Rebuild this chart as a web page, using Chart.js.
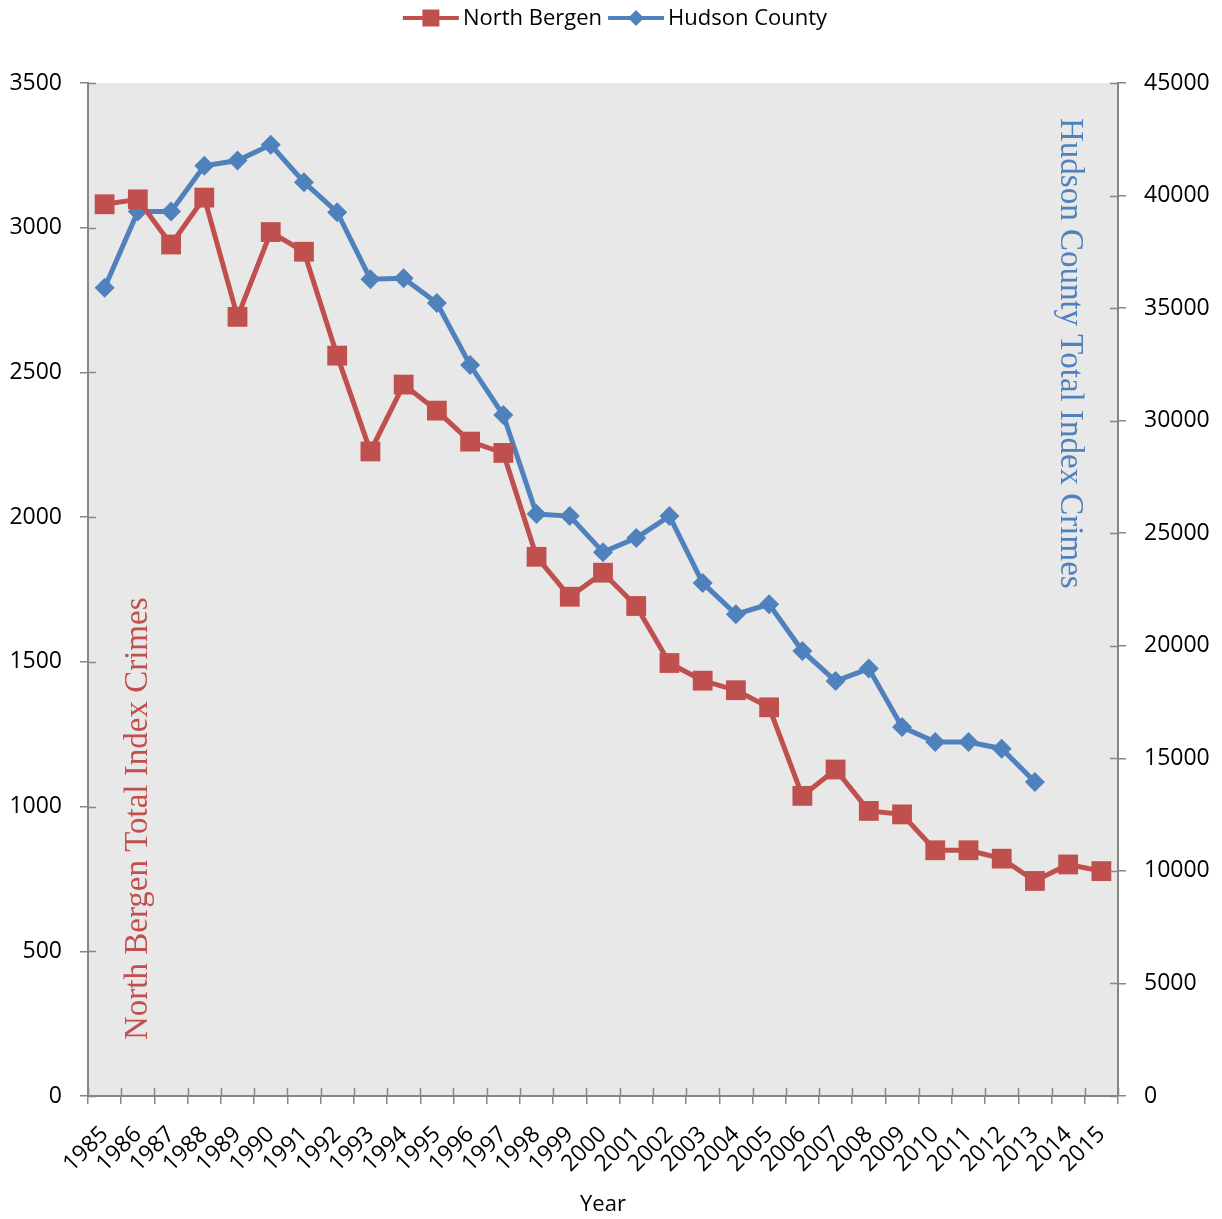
<!DOCTYPE html>
<html>
<head>
<meta charset="utf-8">
<script src="https://cdn.jsdelivr.net/npm/chart.js"></script>
<style>
  body { margin: 0; background: #ffffff; }
</style>
</head>
<body>
<canvas id="myChart" width="1222" height="1219"></canvas>
<script>
const years = ['1985', '1986', '1987', '1988', '1989', '1990', '1991', '1992', '1993', '1994',
  '1995', '1996', '1997', '1998', '1999', '2000', '2001', '2002', '2003', '2004',
  '2005', '2006', '2007', '2008', '2009', '2010', '2011', '2012', '2013', '2014', '2015'];

const northBergen = [3081, 3098, 2942, 3104, 2692, 2985, 2917, 2558, 2227, 2458,
  2368, 2261, 2222, 1863, 1725, 1808, 1693, 1496, 1435, 1402,
  1343, 1037, 1128, 985, 973, 849, 849, 820, 743, 800, 777];

const hudsonCounty = [35910, 39289, 39289, 41321, 41556, 42254, 40596, 39262, 36283, 36330,
  35229, 32471, 30250, 25850, 25760, 24160, 24790, 25760, 22793, 21401,
  21845, 19769, 18435, 18986, 16389, 15723, 15723, 15429, 13944, null, null];

const leftTicks = [0, 500, 1000, 1500, 2000, 2500, 3000, 3500];
const rightTicks = [0, 5000, 10000, 15000, 20000, 25000, 30000, 35000, 40000, 45000];

const RED = '#C0504D';
const BLUE = '#4F81BD';
const AXIS = '#868686';
const FONT = "'Open Sans', sans-serif";

// grey plot area
const plotBg = {
  id: 'plotBg',
  beforeDraw(chart) {
    const { ctx, chartArea: a } = chart;
    ctx.save();
    ctx.fillStyle = '#e8e8e8';
    ctx.fillRect(a.left, a.top, a.right - a.left, a.bottom - a.top);
    ctx.restore();
  }
};

// axis titles sit inside the plot area
const innerTitles = {
  id: 'innerTitles',
  beforeDatasetsDraw(chart) {
    const { ctx, chartArea: a } = chart;
    ctx.save();
    ctx.font = "33px 'Liberation Serif', serif";
    ctx.textBaseline = 'middle';
    ctx.textAlign = 'left';

    ctx.save();
    ctx.translate(a.left + 50, a.bottom - 56);
    ctx.rotate(-Math.PI / 2);
    ctx.fillStyle = RED;
    ctx.fillText('North Bergen Total Index Crimes', 0, 0);
    ctx.restore();

    ctx.save();
    ctx.translate(a.right - 48, a.top + 35);
    ctx.rotate(Math.PI / 2);
    ctx.fillStyle = BLUE;
    ctx.fillText('Hudson County Total Index Crimes', 0, 0);
    ctx.restore();

    ctx.restore();
  }
};

// tick marks cross the axis line, draw the inner half
const crossTicks = {
  id: 'crossTicks',
  afterDraw(chart) {
    const { ctx, chartArea: a, scales } = chart;
    ctx.save();
    ctx.strokeStyle = AXIS;
    ctx.lineWidth = 1.5;
    ctx.beginPath();
    leftTicks.forEach(v => {
      const y = Math.round(scales.y.getPixelForValue(v)) + 0.5;
      ctx.moveTo(a.left, y);
      ctx.lineTo(a.left + 8, y);
    });
    rightTicks.forEach(v => {
      const y = Math.round(scales.y1.getPixelForValue(v)) + 0.5;
      ctx.moveTo(a.right - 8, y);
      ctx.lineTo(a.right, y);
    });
    const step = scales.x.getPixelForValue(1) - scales.x.getPixelForValue(0);
    for (let i = 0; i <= years.length; i++) {
      const x = Math.round(scales.x.getPixelForValue(i) - step / 2) + 0.5;
      ctx.moveTo(x, a.bottom - 8);
      ctx.lineTo(x, a.bottom);
    }
    ctx.stroke();
    ctx.restore();
  }
};

// legend with line + marker
const lineLegend = {
  id: 'lineLegend',
  afterDraw(chart) {
    const { ctx } = chart;
    ctx.save();
    ctx.font = '22px ' + FONT;
    ctx.textBaseline = 'middle';
    ctx.textAlign = 'left';
    const items = chart.data.datasets.map(d => ({ text: d.label, color: d.borderColor, style: d.pointStyle }));
    const lineLen = 56, gap = 4, between = 6;
    let total = 0;
    items.forEach((it, i) => {
      it.w = ctx.measureText(it.text).width;
      total += lineLen + gap + it.w + (i ? between : 0);
    });
    let x = chart.width / 2 + 4 - total / 2;
    const y = 18;
    items.forEach((it, i) => {
      if (i) x += between;
      ctx.strokeStyle = it.color;
      ctx.fillStyle = it.color;
      ctx.lineWidth = 4;
      ctx.beginPath();
      ctx.moveTo(x, y);
      ctx.lineTo(x + lineLen, y);
      ctx.stroke();
      const cx = x + lineLen / 2;
      ctx.beginPath();
      if (it.style === 'rect') {
        ctx.rect(cx - 8.5, y - 8.5, 17, 17);
      } else {
        ctx.moveTo(cx - 8, y);
        ctx.lineTo(cx, y - 8);
        ctx.lineTo(cx + 8, y);
        ctx.lineTo(cx, y + 8);
        ctx.closePath();
      }
      ctx.fill();
      x += lineLen + gap;
      ctx.fillStyle = '#000';
      ctx.fillText(it.text, x, y + 1);
      x += it.w;
    });
    ctx.restore();
  }
};

const plainNumber = v => String(v);

const ctx = document.getElementById('myChart').getContext('2d');
const myChart = new Chart(ctx, {
  type: 'line',
  data: {
    labels: years,
    datasets: [{
      label: 'North Bergen',
      data: northBergen,
      yAxisID: 'y',
      borderColor: RED,
      backgroundColor: RED,
      borderWidth: 5,
      pointStyle: 'rect',
      pointRadius: 14,
      pointBorderWidth: 0,
      tension: 0
    }, {
      label: 'Hudson County',
      data: hudsonCounty,
      yAxisID: 'y1',
      borderColor: BLUE,
      backgroundColor: BLUE,
      borderWidth: 5,
      pointStyle: 'rectRot',
      pointRadius: 10,
      pointBorderWidth: 0,
      tension: 0
    }]
  },
  options: {
    responsive: false,
    animation: false,
    layout: { padding: { top: 83, left: 0, right: 0, bottom: 0 } },
    plugins: {
      legend: { display: false },
      tooltip: { enabled: false }
    },
    scales: {
      x: {
        type: 'category',
        offset: true,
        grid: { offset: true, drawOnChartArea: false, tickLength: 8, color: AXIS, lineWidth: 1.5 },
        border: { color: AXIS, width: 2 },
        ticks: { autoSkip: false, minRotation: 45, maxRotation: 45, padding: 17, color: '#000', font: { family: FONT, size: 23 } },
        title: { display: true, text: 'Year', color: '#000', font: { family: FONT, size: 22 }, padding: { top: 0, bottom: 1 } },
        afterFit(scale) { scale.height = 123; }
      },
      y: {
        position: 'left',
        min: 0,
        max: 3500,
        afterBuildTicks(scale) { scale.ticks = leftTicks.map(v => ({ value: v })); },
        grid: { drawOnChartArea: false, tickLength: 8, color: AXIS, lineWidth: 1.5 },
        border: { color: AXIS, width: 2 },
        ticks: { padding: 18, color: '#000', font: { family: FONT, size: 23 }, callback: plainNumber },
        afterFit(scale) { scale.width = 88; }
      },
      y1: {
        position: 'right',
        min: 0,
        max: 45000,
        afterBuildTicks(scale) { scale.ticks = rightTicks.map(v => ({ value: v })); },
        grid: { drawOnChartArea: false, tickLength: 8, color: AXIS, lineWidth: 1.5 },
        border: { color: AXIS, width: 2 },
        ticks: { padding: 18, color: '#000', font: { family: FONT, size: 23 }, callback: plainNumber },
        afterFit(scale) { scale.width = 104; }
      }
    }
  },
  plugins: [plotBg, innerTitles, crossTicks, lineLegend]
});
</script>
</body>
</html>
